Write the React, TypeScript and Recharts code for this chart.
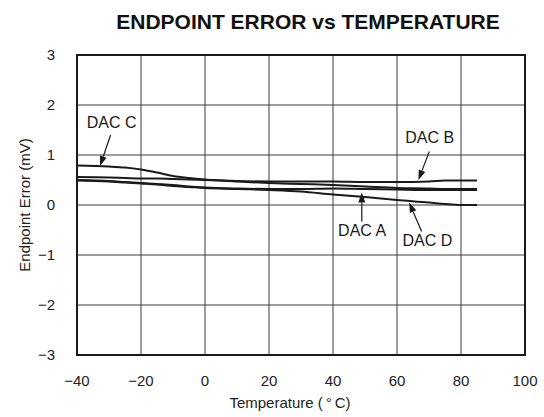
import React from "react";
import {
  CartesianGrid, LineChart, Line, ReferenceArea, ReferenceDot, ReferenceLine,
  XAxis, YAxis,
} from "recharts";

/* ── Data ───────────────────────────────────────────── */

const TEMPS = [-40, -30, -25, -20, -15, -10, -5, 0, 10, 20, 30, 40, 50, 60, 70, 75, 80, 85];

const DAC_A = [0.5, 0.48, 0.46, 0.44, 0.42, 0.4, 0.37, 0.35, 0.33, 0.32, 0.32, 0.33, 0.32, 0.31, 0.3, 0.3, 0.3, 0.3];
const DAC_B = [0.56, 0.55, 0.54, 0.53, 0.53, 0.52, 0.51, 0.5, 0.48, 0.47, 0.47, 0.47, 0.46, 0.46, 0.47, 0.49, 0.49, 0.49];
const DAC_C = [0.79, 0.77, 0.75, 0.71, 0.65, 0.58, 0.54, 0.51, 0.47, 0.44, 0.42, 0.4, 0.37, 0.34, 0.33, 0.32, 0.32, 0.32];
const DAC_D = [0.49, 0.47, 0.45, 0.43, 0.41, 0.38, 0.36, 0.34, 0.32, 0.3, 0.27, 0.21, 0.16, 0.1, 0.05, 0.02, 0, 0];

const X_TICKS = [-40, -20, 0, 20, 40, 60, 80, 100];
const Y_TICKS = [-3, -2, -1, 0, 1, 2, 3];

// callouts, in data units
const CALLOUT_TEXT = ["DAC C", "DAC B", "DAC A", "DAC D"];
const CALLOUT_POS = [[-29.2, 1.65], [70.2, 1.35], [49.1, -0.5], [69.5, -0.7]];
const ARROW_FROM = [[-29.5, 1.4], [70.1, 1.07], [49, -0.33], [67.7, -0.53]];
const ARROW_TO = [[-32.8, 0.78], [66.7, 0.5], [49, 0.25], [63.8, 0.05]];

const data = TEMPS.map((t, i) => ({
  t, a: DAC_A[i], b: DAC_B[i], c: DAC_C[i], d: DAC_D[i],
}));

/* ── Style ──────────────────────────────────────────── */

const FONT = "'Liberation Sans', Arial, Helvetica, sans-serif";
const INK = "#1a1a1a";
const GRID = "#3c3c3c";

const minus = (v: number) => String(v).replace("-", "\u2212");

/* ── Shapes ─────────────────────────────────────────── */

function Arrow(props: any) {
  const { x1, y1, x2, y2 } = props;
  if (x1 == null || y2 == null) return null;
  const ang = Math.atan2(y2 - y1, x2 - x1);
  const len = 10;
  const half = 3.5;
  const bx = x2 - len * Math.cos(ang);
  const by = y2 - len * Math.sin(ang);
  const px = -Math.sin(ang) * half;
  const py = Math.cos(ang) * half;
  return (
    <g>
      <line x1={x1} y1={y1} x2={bx} y2={by} stroke={INK} strokeWidth={1.2} />
      <polygon
        points={`${x2},${y2} ${bx + px},${by + py} ${bx - px},${by - py}`}
        fill={INK}
      />
    </g>
  );
}

function CalloutText(text: string) {
  return (props: any) => (
    <text
      x={props.cx}
      y={props.cy}
      textAnchor="middle"
      dominantBaseline="central"
      fontSize={16}
      fontFamily={FONT}
      fill={INK}
    >
      {text}
    </text>
  );
}

/* ── Main ───────────────────────────────────────────── */

export default function App() {
  return (
    <div style={{ position: "relative", width: 544, height: 417, background: "#fff" }}>
      <style>{"body{margin:0}"}</style>
      <div
        style={{
          position: "absolute", top: 10, left: 108, width: 400,
          textAlign: "center", fontFamily: FONT, fontWeight: 700,
          fontSize: 21, color: "#111", lineHeight: "24px",
        }}
      >
        ENDPOINT ERROR vs TEMPERATURE
      </div>
      <LineChart
        width={544}
        height={417}
        data={data}
        margin={{ top: 55, right: 19, left: 17, bottom: 0 }}
      >
        <CartesianGrid stroke={GRID} strokeWidth={1} />
        <XAxis
          dataKey="t"
          type="number"
          domain={[-40, 100]}
          ticks={X_TICKS}
          tickFormatter={minus}
          axisLine={false}
          tickLine={false}
          tickSize={0}
          tickMargin={20}
          height={62}
          tick={{ fontSize: 15, fill: "#222", fontFamily: FONT }}
          label={{
            value: "Temperature (\u2009°\u2009C)",
            position: "insideBottom",
            offset: 9,
            dx: -11,
            fontSize: 15,
            fill: "#222",
            fontFamily: FONT,
          }}
        />
        <YAxis
          type="number"
          domain={[-3, 3]}
          ticks={Y_TICKS}
          tickFormatter={minus}
          axisLine={false}
          tickLine={false}
          tickSize={0}
          tickMargin={22}
          width={60}
          tick={{ fontSize: 15, fill: "#222", fontFamily: FONT }}
          label={{
            value: "Endpoint Error (mV)",
            angle: -90,
            position: "insideLeft",
            offset: 7.5,
            style: { textAnchor: "middle" },
            fontSize: 15,
            fill: "#222",
            fontFamily: FONT,
          }}
        />
        <ReferenceArea
          x1={-40} x2={100} y1={-3} y2={3}
          fill="none" fillOpacity={0} stroke={INK} strokeWidth={2}
        />

        <Line dataKey="a" type="monotone" stroke={INK} strokeWidth={2} dot={false} isAnimationActive={false} />
        <Line dataKey="b" type="monotone" stroke={INK} strokeWidth={2} dot={false} isAnimationActive={false} />
        <Line dataKey="c" type="monotone" stroke={INK} strokeWidth={2} dot={false} isAnimationActive={false} />
        <Line dataKey="d" type="monotone" stroke={INK} strokeWidth={2} dot={false} isAnimationActive={false} />

        {ARROW_FROM.map((from, i) => (
          <ReferenceLine
            key={`arrow-${i}`}
            segment={[{ x: from[0], y: from[1] }, { x: ARROW_TO[i][0], y: ARROW_TO[i][1] }]}
            shape={Arrow}
          />
        ))}
        {CALLOUT_TEXT.map((text, i) => (
          <ReferenceDot
            key={`text-${i}`}
            x={CALLOUT_POS[i][0]}
            y={CALLOUT_POS[i][1]}
            r={0}
            shape={CalloutText(text)}
          />
        ))}
      </LineChart>
    </div>
  );
}
